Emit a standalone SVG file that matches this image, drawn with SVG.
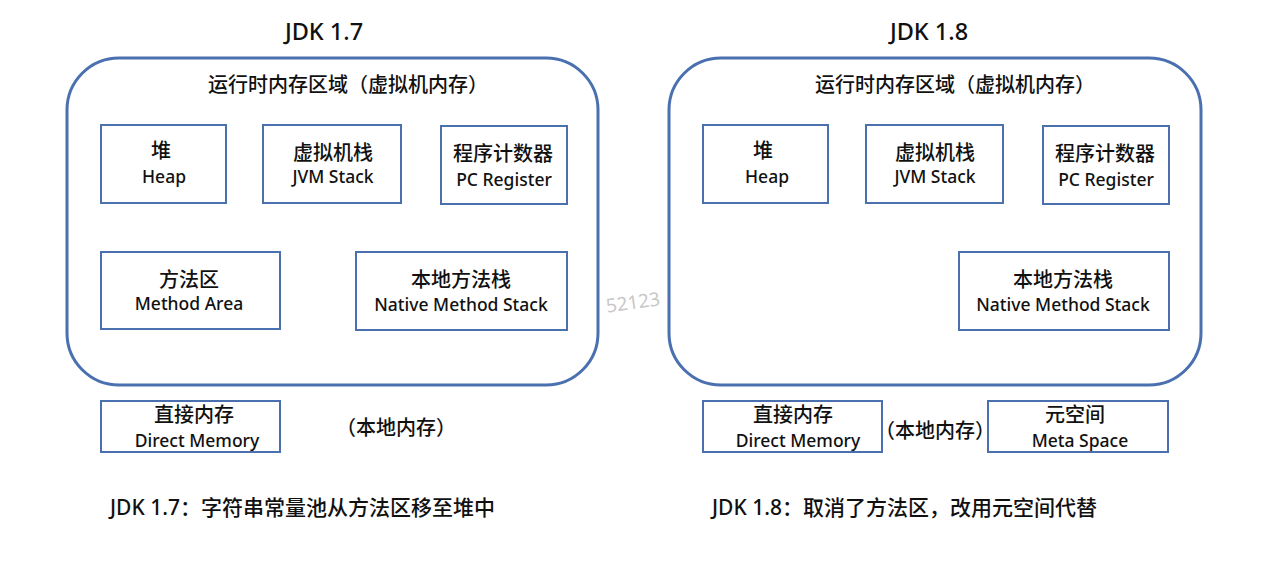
<svg xmlns="http://www.w3.org/2000/svg" width="1279" height="566" viewBox="0 0 1279 566">
<style>
text{font-family:"Noto Sans","Noto Sans CJK SC",sans-serif;fill:#111;text-anchor:middle;font-weight:500}
.cont{fill:none;stroke:#4a70b0;stroke-width:3}
.box{fill:#fff;stroke:#4a70b0;stroke-width:2}
.zh{font-size:20px}
.en{font-size:17.5px}
.title{font-size:23.5px}
.note{font-size:21px;text-anchor:start}
.wm{font-size:19px;fill:#c8c8c8;font-weight:400}
</style>
<rect width="1279" height="566" fill="#fff"/>
<g id="jdk17">
<text class="title" x="324" y="40">JDK 1.7</text>
<rect class="cont" x="67" y="58" width="531" height="327" rx="52"/>
<text class="zh" x="348" y="92">运行时内存区域（虚拟机内存）</text>
</g>
<g id="heap17"><rect class="box" x="101" y="125" width="125" height="78"/><text class="zh" x="161" y="158">堆</text><text class="en" x="164" y="183">Heap</text></g>
<g id="jvmstack17"><rect class="box" x="263" y="125" width="138" height="78"/><text class="zh" x="333" y="160">虚拟机栈</text><text class="en" x="333" y="183">JVM Stack</text></g>
<g id="pc17"><rect class="box" x="441" y="126" width="126" height="78"/><text class="zh" x="503" y="161">程序计数器</text><text class="en" x="504" y="186">PC Register</text></g>
<g id="method17"><rect class="box" x="101" y="252" width="179" height="77"/><text class="zh" x="189" y="287">方法区</text><text class="en" x="189" y="310">Method Area</text></g>
<g id="native17"><rect class="box" x="356" y="252" width="211" height="78"/><text class="zh" x="461" y="287">本地方法栈</text><text class="en" x="461" y="311">Native Method Stack</text></g>
<g id="direct17"><rect class="box" x="101" y="401" width="179" height="51"/><text class="zh" x="194" y="422">直接内存</text><text class="en" x="197" y="447">Direct Memory</text></g>
<g id="local17"><text class="zh" x="396" y="435">（本地内存）</text></g>
<g id="jdk18">
<text class="title" x="929" y="40">JDK 1.8</text>
<rect class="cont" x="669" y="58" width="532" height="327" rx="52"/>
<text class="zh" x="955" y="92">运行时内存区域（虚拟机内存）</text>
</g>
<g id="heap18"><rect class="box" x="703" y="125" width="125" height="78"/><text class="zh" x="763" y="158">堆</text><text class="en" x="767" y="183">Heap</text></g>
<g id="jvmstack18"><rect class="box" x="866" y="125" width="137" height="78"/><text class="zh" x="935" y="160">虚拟机栈</text><text class="en" x="935" y="183">JVM Stack</text></g>
<g id="pc18"><rect class="box" x="1043" y="126" width="126" height="78"/><text class="zh" x="1105" y="161">程序计数器</text><text class="en" x="1106" y="186">PC Register</text></g>
<g id="native18"><rect class="box" x="959" y="252" width="210" height="78"/><text class="zh" x="1063" y="287">本地方法栈</text><text class="en" x="1063" y="311">Native Method Stack</text></g>
<g id="direct18"><rect class="box" x="703" y="401" width="179" height="51"/><text class="zh" x="793" y="422">直接内存</text><text class="en" x="798" y="447">Direct Memory</text></g>
<g id="local18"><text class="zh" x="935" y="438">（本地内存）</text></g>
<g id="meta18"><rect class="box" x="988" y="401" width="180" height="51"/><text class="zh" x="1075" y="422">元空间</text><text class="en" x="1080" y="447">Meta Space</text></g>
<g id="notes">
<text class="note" x="110" y="515">JDK 1.7：字符串常量池从方法区移至堆中</text>
<text class="note" x="712" y="515">JDK 1.8：取消了方法区，改用元空间代替</text>
</g>
<g id="connectors"/>
<text class="wm" x="633" y="309" transform="rotate(-8 633 303)">52123</text>
</svg>
